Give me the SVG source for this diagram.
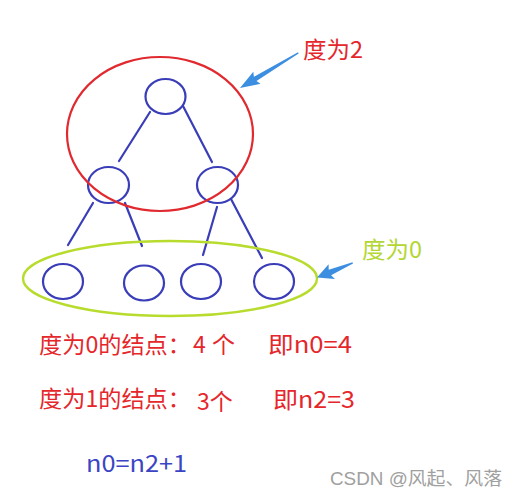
<svg xmlns="http://www.w3.org/2000/svg" width="516" height="496" viewBox="0 0 516 496">
<style>
.node{fill:none;stroke:#3a3db8;stroke-width:2.2}
.edge{stroke:#3a3db8;stroke-width:2.2;stroke-linecap:round}
.arrow{fill:#3c8ee0}
.t{font-family:"Noto Sans CJK SC","Noto Sans",sans-serif;font-size:23px}
.red{fill:#e5262b}
</style>
<rect width="516" height="496" fill="#fff"/>
<g id="connectors">
<line class="edge" x1="150" y1="112" x2="119" y2="161"/>
<line class="edge" x1="183" y1="106" x2="212" y2="162"/>
<line class="edge" x1="93" y1="203" x2="68" y2="245"/>
<line class="edge" x1="125" y1="203" x2="142" y2="246"/>
<line class="edge" x1="217" y1="207" x2="203" y2="255"/>
<line class="edge" x1="231" y1="199" x2="262" y2="258"/>
</g>
<g id="node-root"><ellipse class="node" cx="165.5" cy="96.5" rx="20" ry="17.5"/></g>
<g id="node-l"><ellipse class="node" cx="108.5" cy="185" rx="20.5" ry="18"/></g>
<g id="node-r"><ellipse class="node" cx="217.5" cy="185" rx="20.5" ry="18"/></g>
<g id="node-ll"><ellipse class="node" cx="63" cy="281.5" rx="20" ry="17.5"/></g>
<g id="node-lr"><ellipse class="node" cx="144" cy="283" rx="20" ry="17.5"/></g>
<g id="node-rl"><ellipse class="node" cx="201" cy="281.5" rx="20" ry="17.5"/></g>
<g id="node-rr"><ellipse class="node" cx="274" cy="281.5" rx="20" ry="17.5"/></g>
<g id="group-deg2">
<ellipse cx="160" cy="134" rx="93" ry="77" fill="none" stroke="#e02a2f" stroke-width="2.2"/>
<polygon class="arrow" points="298,52.3 253.9,76.8 253.3,71.8 240,88 260.5,83.8 256.5,81 298.6,53.6"/>
<text class="t" x="303" y="58" fill="#e5262b" textLength="60" lengthAdjust="spacingAndGlyphs">度为2</text>
</g>
<g id="group-deg0">
<ellipse cx="170" cy="278.5" rx="147" ry="37.5" fill="none" stroke="#b8dc2e" stroke-width="2.4"/>
<polygon class="arrow" points="352.5,262.2 328.7,269.7 328.6,264.3 317,277.5 335,279.1 331.1,275.3 353,263.6"/>
<text class="t" x="362" y="258" fill="#b3d633" textLength="60" lengthAdjust="spacingAndGlyphs">度为0</text>
</g>
<g id="notes">
<text class="t red" x="39" y="353" textLength="152" lengthAdjust="spacingAndGlyphs">度为0的结点：</text>
<text class="t red" x="193" y="353">4</text>
<text class="t red" x="212" y="353">个</text>
<text class="t red" x="268" y="353" textLength="84" lengthAdjust="spacingAndGlyphs">即n0=4</text>
<text class="t red" x="39" y="407" textLength="152" lengthAdjust="spacingAndGlyphs">度为1的结点：</text>
<text class="t red" x="197" y="410">3个</text>
<text class="t red" x="273" y="408" textLength="82" lengthAdjust="spacingAndGlyphs">即n2=3</text>
<text class="t" x="86" y="472" fill="#3b45c4" textLength="101" lengthAdjust="spacingAndGlyphs">n0=n2+1</text>
<text x="330" y="485" font-family="'Liberation Sans','Noto Sans CJK SC',sans-serif" font-size="18" fill="#a0a0a0" textLength="172" lengthAdjust="spacingAndGlyphs">CSDN @风起、风落</text>
</g>
</svg>
